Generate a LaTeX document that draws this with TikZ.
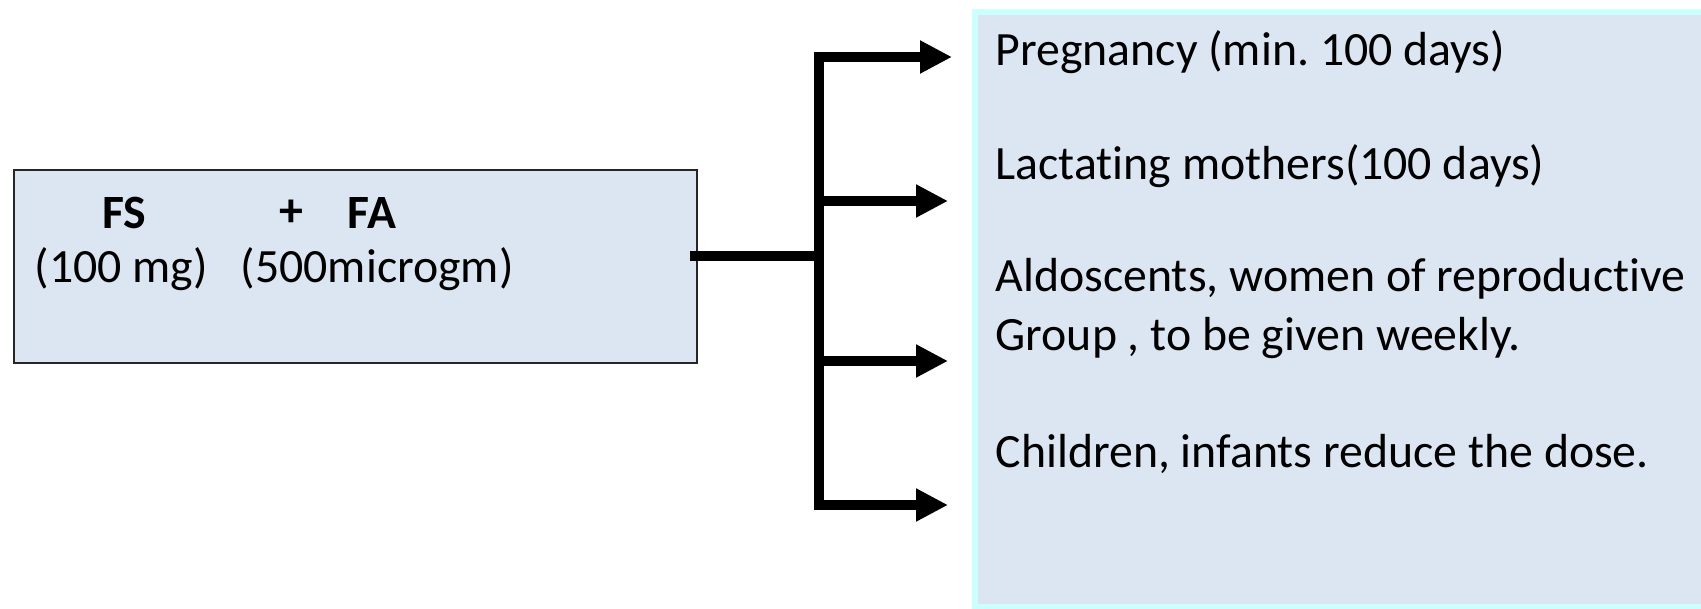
\documentclass[tikz,border=0pt]{standalone}
\usepackage{fontspec}
\setmainfont[Ligatures=NoCommon]{Carlito}
\usetikzlibrary{arrows.meta}
\definecolor{boxfill}{HTML}{DCE6F2}
\definecolor{boxedge}{HTML}{CCFFFF}
\frenchspacing

\begin{document}
\begin{tikzpicture}[x=0.1mm, y=-0.1mm,
    txt/.style={inner sep=0pt, font=\fontsize{13.6}{16.5}\selectfont},
    item/.style={txt, anchor=west},
    trunk/.style={line width=1mm, line join=miter},
    branch/.style={trunk, -{Triangle[length=3.2mm, width=3.1mm]}}]
      \useasboundingbox (0,0) rectangle (1701,609);

      % boxes
      \node (src) [draw=black!85, fill=boxfill, line width=0.2mm, inner sep=0pt,
        minimum width=68.3mm, minimum height=19.3mm, anchor=north west] at (13,169) {};
      \node (grp) [draw=boxedge, fill=boxfill, line width=0.6mm, inner sep=0pt,
        minimum width=76mm, minimum height=59.5mm, anchor=north west] at (972,9) {};

      % left box text
      \node (fs) [txt, font=\fontsize{13.6}{16.5}\selectfont\bfseries] at (124,213) {FS};
      \node (plus) [txt, font=\fontsize{13.6}{16.5}\selectfont\bfseries] at (291,213) {+};
      \node (fa) [txt, font=\fontsize{13.6}{16.5}\selectfont\bfseries] at (372,213) {FA};
      \node (fsdose) [item] at (34,269) {(100 mg)};
      \node (fadose) [item] at (240,269) {(500microgm)};

      % right box text
      \node (preg) [item] at (995,52) {Pregnancy (min. 100 days)};
      \node (lact) [item] at (995,166) {Lactating mothers(100 days)};
      \node (adol) [item] at (995,279) {Aldoscents, women of reproductive};
      \node (adolb) [item] at (995,338) {Group , to be given weekly.};
      \node (child) [item] at (995,454) {Children, infants reduce the dose.};

      % connectors
      \coordinate (hub) at (819,256);
      \coordinate (top) at (819,57);
      \coordinate (bot) at (819,505);
      \coordinate (tipA) at (952,57);
      \coordinate (tipB) at (948,201);
      \coordinate (tipC) at (948,361);
      \coordinate (tipD) at (948,505);

      \draw[trunk] ([xshift=-0.8mm]src.east |- hub) -- (hub);
      \draw[trunk, {Triangle[length=3.2mm, width=3.1mm]}-{Triangle[length=3.2mm, width=3.1mm]}]
        (tipA) -- (top) -- (bot) -- (tipD);
      \draw[branch] (hub |- tipB) -- (tipB);
      \draw[branch] (hub |- tipC) -- (tipC);
    \end{tikzpicture}
\end{document}
